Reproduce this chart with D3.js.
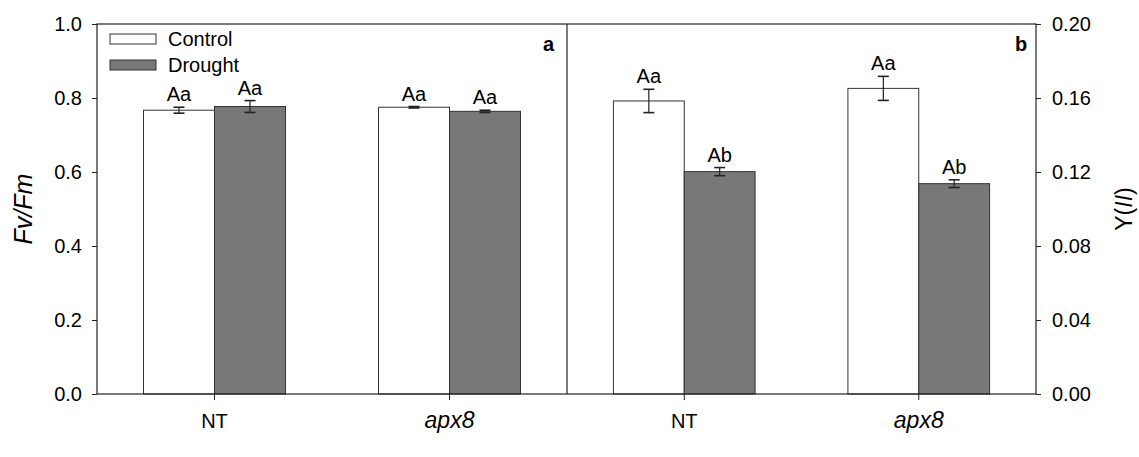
<!DOCTYPE html>
<html lang="en">
<head>
<meta charset="UTF-8">
<title>Fv/Fm and Y(II)</title>
<script src="https://cdn.jsdelivr.net/npm/d3@7/dist/d3.min.js"></script>
<style>
  body { margin: 0; background: #fff; }
  text { font-family: Arial, "Liberation Sans", sans-serif; fill: #000; }
</style>
</head>
<body>
<script>
// data
var groups = ["NT", "apx8"];
var series = ["Control", "Drought"];
var fvfm = [[0.767, 0.777], [0.775, 0.764]];
var fvfmErr = [[0.008, 0.016], [0.002, 0.003]];
var fvfmLetters = [["Aa", "Aa"], ["Aa", "Aa"]];
var yII = [[0.1584, 0.1202], [0.1652, 0.1137]];
var yIIErr = [[0.0063, 0.0022], [0.0065, 0.0021]];
var yIILetters = [["Aa", "Ab"], ["Aa", "Ab"]];
var leftTicks = [0, 0.2, 0.4, 0.6, 0.8, 1.0];
var rightTicks = [0, 0.04, 0.08, 0.12, 0.16, 0.20];
var colors = ["#ffffff", "#787878"];

var W = 1139, H = 457;
// plot box ("top" is reserved on window, so use pTop)
var pTop = 24, pBottom = 394, pLeft = 97, pMid = 567, pRight = 1036;
var FONT = 20;

var svg = d3.select("body").append("svg").attr("width", W).attr("height", H);

var yL = d3.scaleLinear().domain([0, 1]).range([pBottom, pTop]);
var yR = d3.scaleLinear().domain([0, 0.2]).range([pBottom, pTop]);

function panel(x0, x1, yScale, vals, errs, letters) {
  var gx = d3.scaleBand().domain(groups).range([x0, x1]).paddingInner(0).paddingOuter(0);
  var sx = d3.scaleBand().domain(series).range([0, gx.bandwidth()]).paddingOuter(0.655);
  var g = svg.append("g");
  groups.forEach(function (grp, i) {
    var gg = g.append("g").attr("transform", "translate(" + gx(grp) + ",0)");
    series.forEach(function (s, j) {
      var v = vals[i][j], e = errs[i][j];
      var cx = sx(s) + sx.bandwidth() / 2;
      gg.append("rect")
        .attr("x", sx(s)).attr("y", yScale(v))
        .attr("width", sx.bandwidth()).attr("height", pBottom - yScale(v))
        .attr("fill", colors[j]).attr("stroke", "#333").attr("stroke-width", 1);
      gg.append("line").attr("x1", cx).attr("x2", cx)
        .attr("y1", yScale(v - e)).attr("y2", yScale(v + e))
        .attr("stroke", "#222").attr("stroke-width", 1.2);
      [v - e, v + e].forEach(function (t) {
        gg.append("line").attr("x1", cx - 5.5).attr("x2", cx + 5.5)
          .attr("y1", yScale(t)).attr("y2", yScale(t))
          .attr("stroke", "#222").attr("stroke-width", 1.6);
      });
      gg.append("text").attr("x", cx).attr("y", yScale(v + e) - 6)
        .attr("text-anchor", "middle").attr("font-size", FONT).text(letters[i][j]);
    });
  });
  var xa = svg.append("g").attr("transform", "translate(0," + pBottom + ")")
    .call(d3.axisBottom(gx).tickSize(6).tickFormat(""));
  xa.select(".domain").remove();
  xa.selectAll("line").attr("stroke", "#222");
  groups.forEach(function (grp) {
    svg.append("text").attr("x", gx(grp) + gx.bandwidth() / 2).attr("y", 428)
      .attr("text-anchor", "middle")
      .attr("font-size", grp === "NT" ? FONT : 23)
      .attr("font-style", grp === "NT" ? "normal" : "italic")
      .text(grp);
  });
}

panel(pLeft, pMid, yL, fvfm, fvfmErr, fvfmLetters);
panel(pMid, pRight, yR, yII, yIIErr, yIILetters);

// frame
svg.append("rect").attr("x", pLeft).attr("y", pTop)
  .attr("width", pRight - pLeft).attr("height", pBottom - pTop)
  .attr("fill", "none").attr("stroke", "#222").attr("stroke-width", 1.2);
svg.append("line").attr("x1", pMid).attr("x2", pMid).attr("y1", pTop).attr("y2", pBottom)
  .attr("stroke", "#222").attr("stroke-width", 1.2);

// axes
var la = svg.append("g").attr("transform", "translate(" + pLeft + ",0)")
  .call(d3.axisLeft(yL).tickValues(leftTicks).tickFormat(d3.format(".1f")).tickSize(5).tickPadding(10));
la.select(".domain").remove();
la.selectAll("text").attr("font-size", FONT).style("font-family", "Arial, 'Liberation Sans', sans-serif");
la.selectAll("line").attr("stroke", "#222");

var ra = svg.append("g").attr("transform", "translate(" + pRight + ",0)")
  .call(d3.axisRight(yR).tickValues(rightTicks).tickFormat(d3.format(".2f")).tickSize(5).tickPadding(11));
ra.select(".domain").remove();
ra.selectAll("text").attr("font-size", FONT).style("font-family", "Arial, 'Liberation Sans', sans-serif");
ra.selectAll("line").attr("stroke", "#222");

// axis titles
svg.append("text").attr("transform", "translate(32," + ((pTop + pBottom) / 2) + ") rotate(-90)")
  .attr("text-anchor", "middle").attr("font-size", 25).attr("font-style", "italic").text("Fv/Fm");
var yt = svg.append("text").attr("transform", "translate(1132," + ((pTop + pBottom) / 2) + ") rotate(-90)")
  .attr("text-anchor", "middle").attr("font-size", 23);
yt.append("tspan").text("Y(");
yt.append("tspan").attr("font-style", "italic").text("II");
yt.append("tspan").text(")");

// panel letters
svg.append("text").attr("x", 548.5).attr("y", 51).attr("text-anchor", "middle")
  .attr("font-size", FONT).attr("font-weight", "bold").text("a");
svg.append("text").attr("x", 1021).attr("y", 51).attr("text-anchor", "middle")
  .attr("font-size", FONT).attr("font-weight", "bold").text("b");

// legend
series.forEach(function (s, j) {
  var ly = 34 + j * 26;
  svg.append("rect").attr("x", 110).attr("y", ly).attr("width", 46).attr("height", 10)
    .attr("fill", colors[j]).attr("stroke", "#333");
  svg.append("text").attr("x", 168).attr("y", ly + 12).attr("font-size", FONT).text(s);
});
</script>
</body>
</html>
